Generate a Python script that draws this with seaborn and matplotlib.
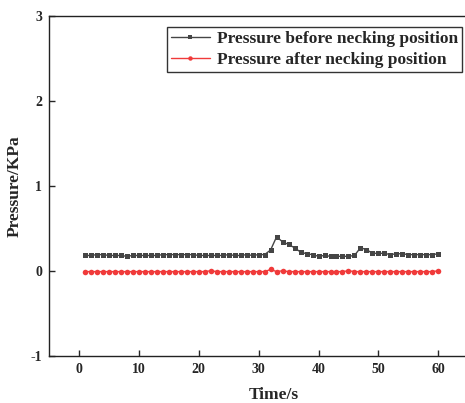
import numpy as np
import pandas as pd
import matplotlib
matplotlib.use("Agg")
import matplotlib.pyplot as plt
import seaborn as sns

# Datos
time_s = list(range(1, 61))
p_before = [0.18, 0.18, 0.19, 0.19, 0.18, 0.18, 0.18, 0.17, 0.18, 0.18,
            0.18, 0.18, 0.18, 0.19, 0.19, 0.19, 0.19, 0.19, 0.19, 0.18,
            0.18, 0.18, 0.18, 0.18, 0.19, 0.18, 0.18, 0.19, 0.18, 0.19,
            0.19, 0.245, 0.40, 0.34, 0.31, 0.27, 0.22, 0.20, 0.19, 0.17,
            0.18, 0.17, 0.17, 0.17, 0.17, 0.18, 0.27, 0.25, 0.205, 0.205,
            0.205, 0.19, 0.20, 0.20, 0.19, 0.19, 0.19, 0.19, 0.19, 0.20]
p_after = [-0.01] * 60
p_after[21] = 0.0
p_after[31] = 0.015
p_after[33] = 0.0
p_after[44] = 0.0
p_after[59] = 0.0

df = pd.DataFrame({"t": time_s, "before": p_before, "after": p_after})

sns.set_style("ticks")
plt.rcParams["font.family"] = ["Liberation Serif", "DejaVu Serif"]
plt.rcParams["font.weight"] = "bold"
plt.rcParams["axes.unicode_minus"] = False

fig = plt.figure(figsize=(4.65, 4.03), dpi=100)
# el eje derecho queda fuera de la imagen, como en el original
ax = fig.add_axes([0.1054, 0.1174, 0.966, 0.843])

sns.lineplot(data=df, x="t", y="before", ax=ax, color="#454545", lw=1.0,
             marker="s", markersize=3.6, markeredgewidth=0,
             label="Pressure before necking position")
sns.lineplot(data=df, x="t", y="after", ax=ax, color="#f03a3a", lw=1.0,
             marker="o", markersize=4.0, markeredgewidth=0,
             label="Pressure after necking position")

ax.set_xlim(-5, 70)
ax.set_ylim(-1, 3)
ax.set_xticks([0, 10, 20, 30, 40, 50, 60])
ax.set_yticks([-1, 0, 1, 2, 3])
ax.tick_params(direction="in", length=4.3, width=1, labelsize=10, pad=5)
for lab in ax.get_xticklabels() + ax.get_yticklabels():
    lab.set_fontweight("bold")
for sp in ax.spines.values():
    sp.set_linewidth(1.0)
    sp.set_color("#222222")

ax.set_xlabel("Time/s", fontsize=12.5, fontweight="bold", labelpad=8.5)
ax.set_ylabel("Pressure/KPa", fontsize=12.5, fontweight="bold", labelpad=6)

leg = ax.legend(loc="upper right", bbox_to_anchor=(462 / 465, 1 - 27 / 403),
                bbox_transform=fig.transFigure, borderaxespad=0,
                fancybox=False, edgecolor="#333333", framealpha=1,
                prop={"weight": "bold", "size": 12.5}, handlelength=2.2,
                handletextpad=0.4, borderpad=0.25, labelspacing=0.25,
                markerscale=0.8)
leg.get_frame().set_linewidth(1.0)

fig.savefig("out.png", dpi=100)
